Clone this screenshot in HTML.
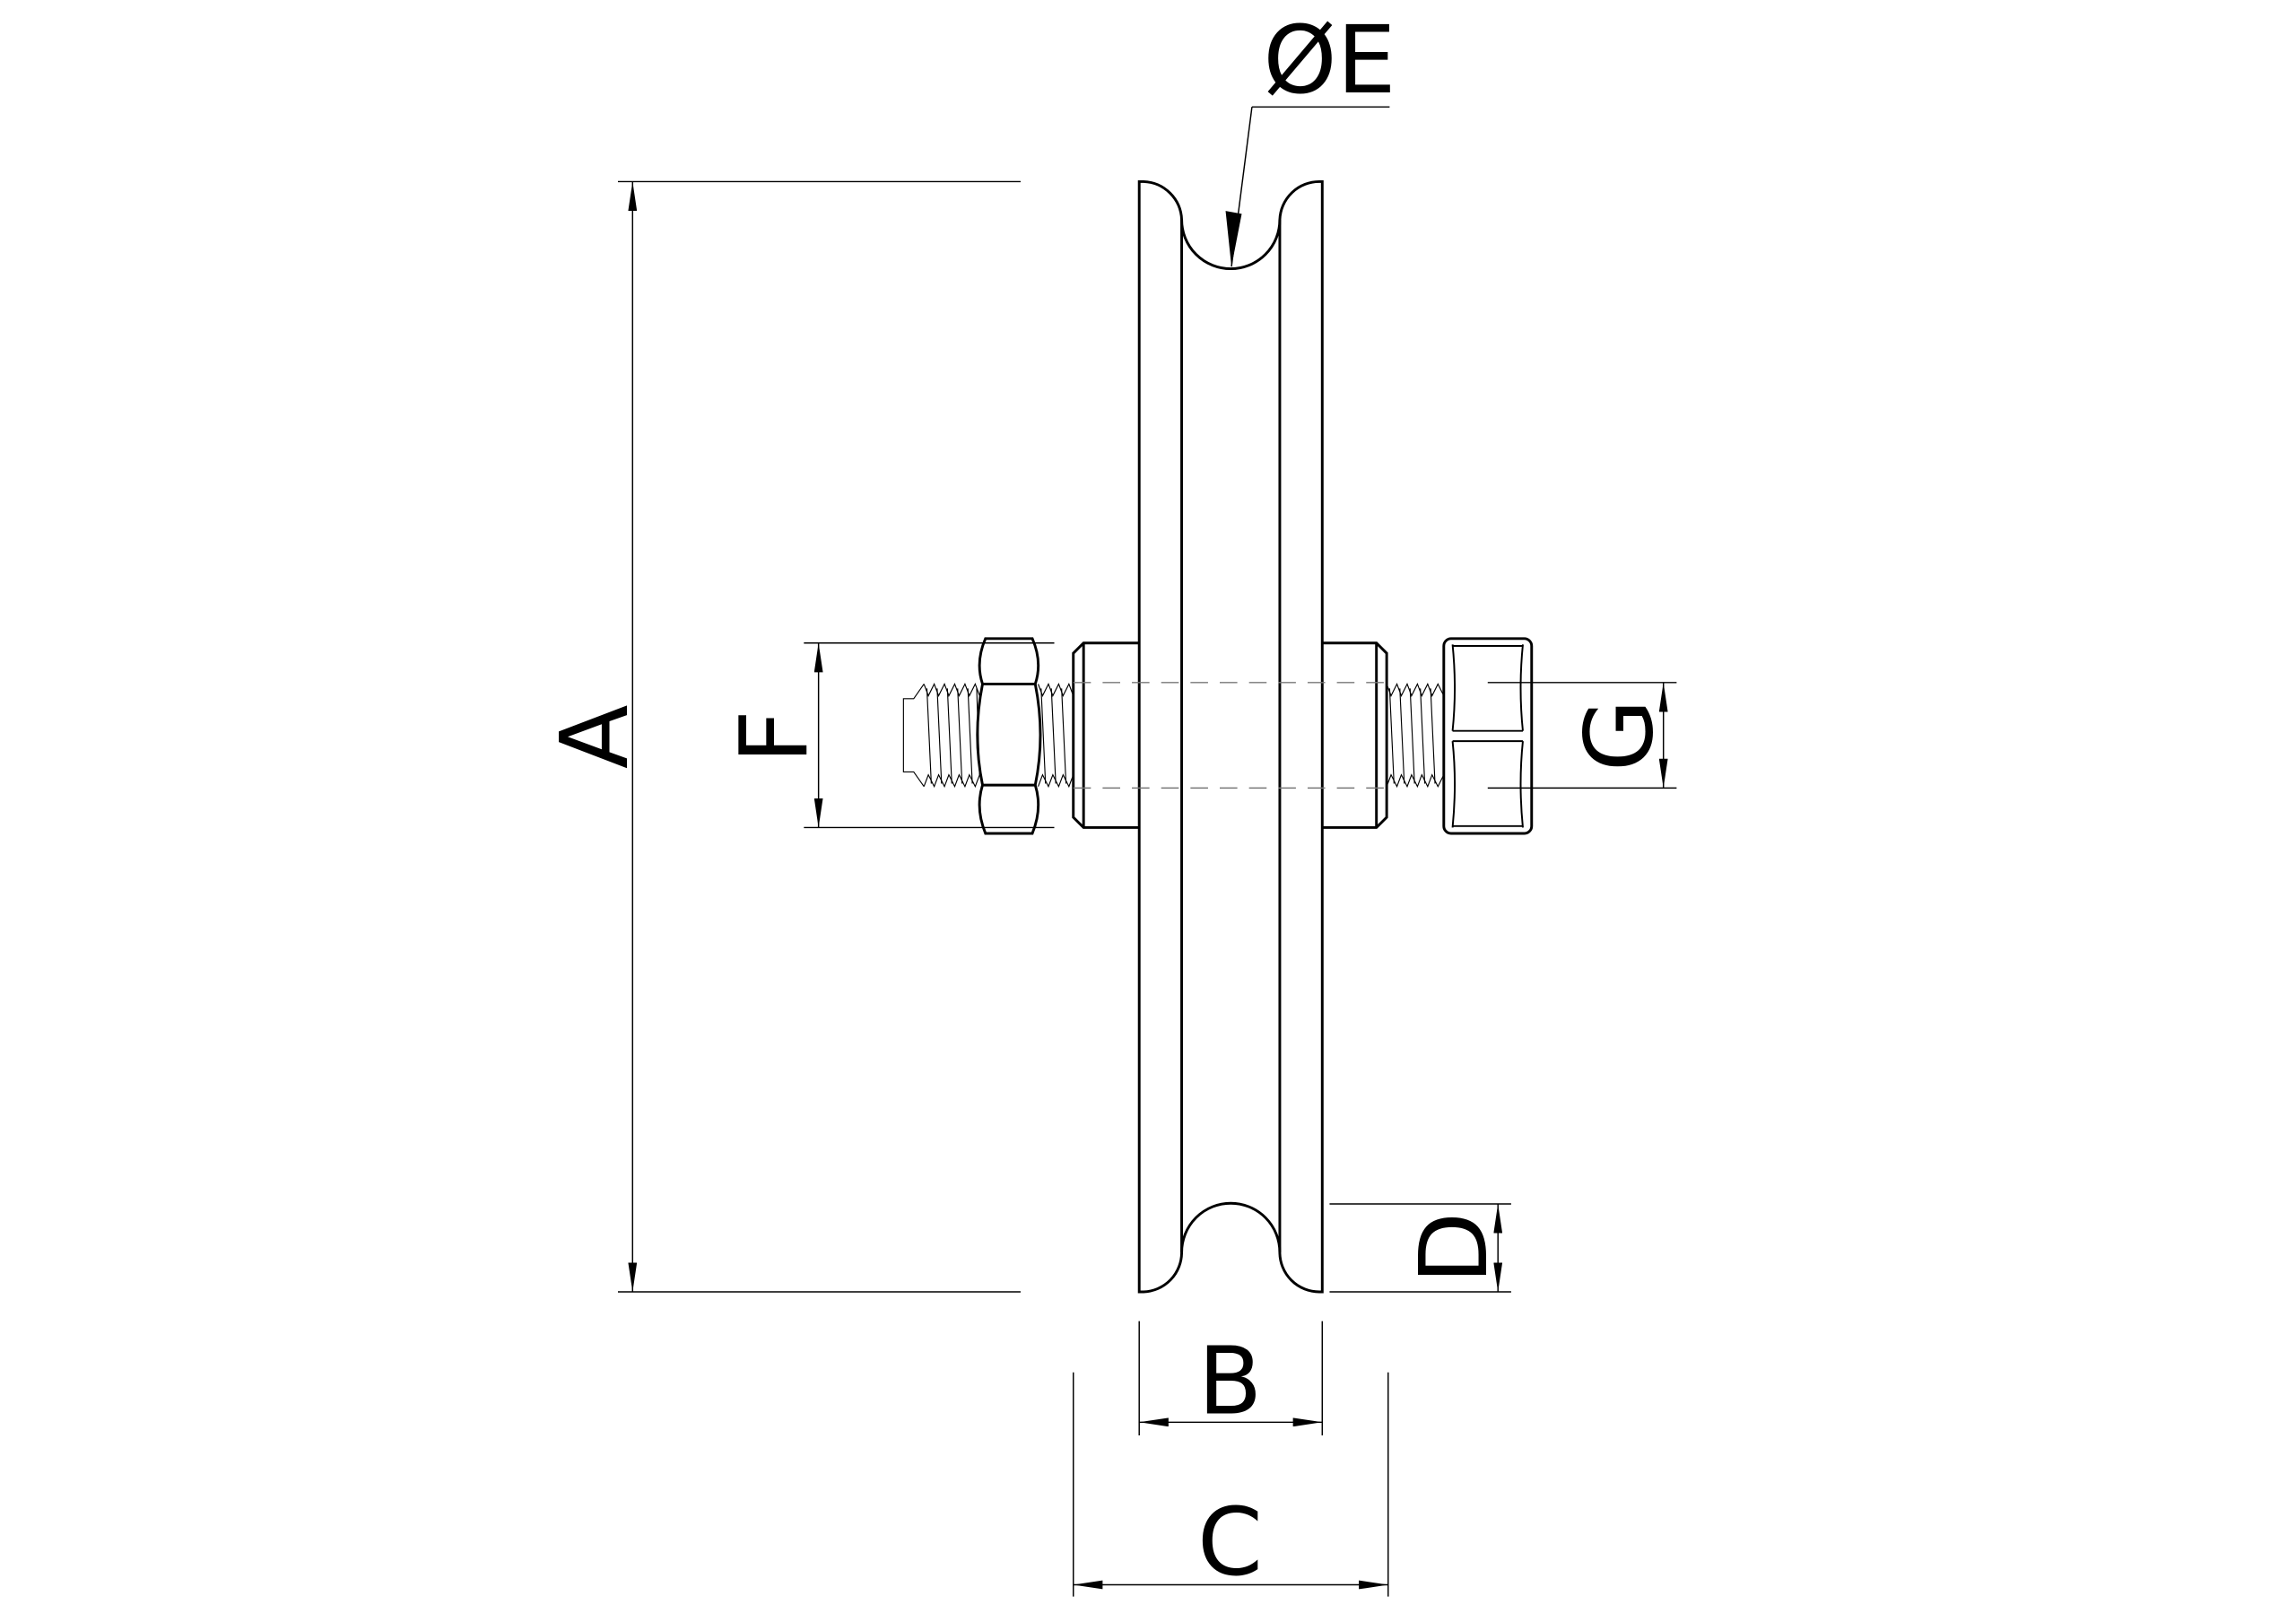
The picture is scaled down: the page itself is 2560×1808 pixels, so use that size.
<!DOCTYPE html>
<html><head><meta charset="utf-8"><style>
html,body{margin:0;padding:0;background:#fff}
svg{display:block}
text{font-family:"DejaVu Sans","Liberation Sans",sans-serif;font-size:64px;fill:#000}
</style></head><body>
<svg width="2560" height="1808" viewBox="0 0 1568 1107.4" xmlns="http://www.w3.org/2000/svg">
<defs>
<marker id="ar" viewBox="0 0 20 6" refX="20" refY="3" markerWidth="20" markerHeight="6" markerUnits="userSpaceOnUse" orient="auto-start-reverse"><path d="M0,0 L20,3 L0,6 z" fill="#000"/></marker>
</defs>
<g fill="none" stroke="#000" stroke-width="1.8">
<path d="M778,124 L778,882 L781,882 A27,27 0 0 0 807,855 A33.5,33.5 0 0 1 874,855 A27,27 0 0 0 901,882 L903,882 L903,124 L901,124 A27,27 0 0 0 874,150 A33.5,33.5 0 0 1 807,150 A27,27 0 0 0 781,124 Z"/>
<line x1="807" y1="150" x2="807" y2="855"/>
<line x1="874" y1="150" x2="874" y2="855"/>
<path d="M778,439 L740,439 L733,446 L733,558 L740,565 L778,565"/>
<line x1="740" y1="439" x2="740" y2="565"/>
<path d="M903,439 L940,439 L947,446 L947,558 L940,565 L903,565"/>
<line x1="940" y1="439" x2="940" y2="565"/>
<path d="M673,436 L705,436 Q712,452 707,467 Q714,502 707,536 Q712,552 705,569 L673,569 Q666,552 671,536 Q664,502 671,467 Q666,452 673,436 Z"/>
<line x1="671" y1="467" x2="707" y2="467"/>
<line x1="671" y1="536" x2="707" y2="536"/>
<rect x="986" y="436" width="60" height="133" rx="5"/>
<path d="M992,440 Q995,470 992,499 M1040,440 Q1037,470 1040,499 M992,506 Q995,535 992,565 M1040,506 Q1037,535 1040,565" stroke-width="1.2"/>
<line x1="992" y1="499" x2="1040" y2="499" stroke-width="1.2"/>
<line x1="992" y1="506" x2="1040" y2="506" stroke-width="1.2"/>
<line x1="992" y1="441" x2="1040" y2="441" stroke-width="1.2"/>
<line x1="992" y1="564" x2="1040" y2="564" stroke-width="1.2"/>
</g>
<g fill="none" stroke="#000" stroke-width="0.7">
<path d="M631,467 L624,477 L617,477 L617,527 L624,527 L631,537"/>
<path d="M631,467 L634,475 L638,467 L641,475 L645,467 L648,475 L652,467 L655,475 L659,467 L662,475 L666,467 L669,475"/>
<path d="M631,537 L634,529 L638,537 L641,529 L645,537 L648,529 L652,537 L655,529 L659,537 L662,529 L666,537 L669,529"/>
<path d="M633,470 L636,535 M640,470 L643,535 M647,470 L650,535 M654,470 L657,535 M661,470 L664,535 M667,470 L669,530"/>
<path d="M709,467 L712,475 L716,467 L719,475 L723,467 L726,475 L730,467 L733,475 M709,537 L712,529 L716,537 L719,529 L723,537 L726,529 L730,537 L733,529"/>
<path d="M711,470 L714,535 M718,470 L721,535 M725,470 L728,535"/>
<path d="M947,467 L950,475 L954,467 L957,475 L961,467 L964,475 L968,467 L971,475 L975,467 L978,475 L982,467 L986,475 M947,537 L950,529 L954,537 L957,529 L961,537 L964,529 L968,537 L971,529 L975,537 L978,529 L982,537 L986,529"/>
<path d="M949,470 L952,535 M956,470 L959,535 M963,470 L966,535 M970,470 L973,535 M977,470 L980,535"/>
</g>
<g stroke="#777" stroke-width="0.9" stroke-dasharray="12,8">
<line x1="733" y1="466" x2="947" y2="466"/>
<line x1="733" y1="538" x2="947" y2="538"/>
</g>
<g stroke="#000" stroke-width="0.9" fill="none">
<line x1="422" y1="124" x2="697" y2="124"/>
<line x1="422" y1="882" x2="697" y2="882"/>
<line x1="432" y1="124" x2="432" y2="882" marker-start="url(#ar)" marker-end="url(#ar)"/>
<line x1="549" y1="439" x2="720" y2="439"/>
<line x1="549" y1="565" x2="720" y2="565"/>
<line x1="559" y1="439" x2="559" y2="565" marker-start="url(#ar)" marker-end="url(#ar)"/>
<line x1="1016" y1="466" x2="1145" y2="466"/>
<line x1="1016" y1="538" x2="1145" y2="538"/>
<line x1="1136" y1="466" x2="1136" y2="538" marker-start="url(#ar)" marker-end="url(#ar)"/>
<line x1="908" y1="822" x2="1032" y2="822"/>
<line x1="908" y1="882" x2="1032" y2="882"/>
<line x1="1023" y1="822" x2="1023" y2="882" marker-start="url(#ar)" marker-end="url(#ar)"/>
<line x1="778" y1="902" x2="778" y2="980"/>
<line x1="903" y1="902" x2="903" y2="980"/>
<line x1="778" y1="971" x2="903" y2="971" marker-start="url(#ar)" marker-end="url(#ar)"/>
<line x1="733" y1="937" x2="733" y2="1090"/>
<line x1="948" y1="937" x2="948" y2="1090"/>
<line x1="733" y1="1082" x2="948" y2="1082" marker-start="url(#ar)" marker-end="url(#ar)"/>
<line x1="855" y1="73" x2="949" y2="73"/>
<line x1="855" y1="73" x2="841" y2="182"/>
</g>
<path d="M837,144 L848,146 L841,182 Z" fill="#000"/>
<text x="428" y="503" text-anchor="middle" transform="rotate(-90 428 503)">A</text>
<text x="551" y="503" text-anchor="middle" transform="rotate(-90 551 503)">F</text>
<text x="1128" y="502" text-anchor="middle" transform="rotate(-90 1128 502)">G</text>
<text x="1015" y="852" text-anchor="middle" transform="rotate(-90 1015 852)">D</text>
<text x="840" y="965" text-anchor="middle">B</text>
<text x="840" y="1075" text-anchor="middle">C</text>
<text x="908" y="63" text-anchor="middle">ØE</text>
</svg>
</body></html>
